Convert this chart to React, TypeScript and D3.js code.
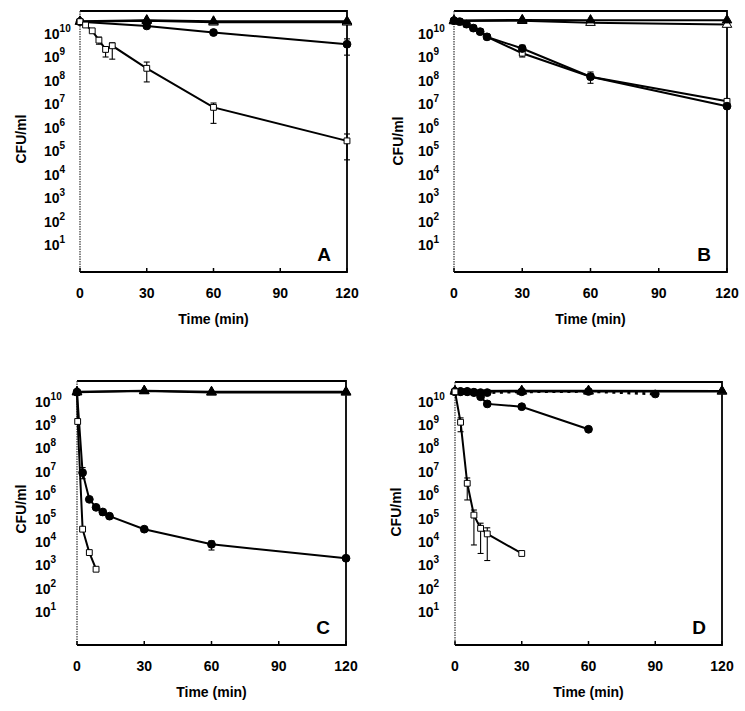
import React from "react";
import * as d3 from "d3";

// ---------- data (CFU/ml) ----------
const T4 = [0, 30, 60, 120];
const T9 = [0, 2.5, 5.5, 8.5, 11.5, 14.5, 30, 60, 120];
const xTicks = [0, 30, 60, 90, 120];
const yExps = [1, 2, 3, 4, 5, 6, 7, 8, 9, 10];

// Panel A
const A_openTri = [3.2e10, 3.5e10, 3.0e10, 3.0e10];
const A_fillTri = [3.3e10, 3.7e10, 3.3e10, 3.3e10];
const A_circle = [3.2e10, 2.1e10, 1.1e10, 3.5e9];
const A_circleLo = [null, null, null, 1.2e9];
const A_circleHi = [null, null, null, 5.9e9];
const A_square = [3.2e10, 2.3e10, 1.3e10, 5.2e9, 2.1e9, 3.0e9, 3.3e8, 7.2e6, 2.7e5];
const A_squareLo = [null, null, null, 3.5e9, 1.0e9, 8.1e8, 8.7e7, 1.5e6, 4.2e4];
const A_squareHi = [null, null, null, 7.0e9, 2.7e9, 4.0e9, 6.1e8, 1.1e7, 5.3e5];

// Panel B
const B_openTri = [3.4e10, 3.5e10, 2.9e10, 2.4e10];
const B_fillTri = [3.6e10, 3.8e10, 3.7e10, 3.7e10];
const B_square = [3.5e10, 3.2e10, 2.5e10, 1.7e10, 1.2e10, 7.2e9, 1.45e9, 1.45e8, 1.3e7];
const B_squareLo = [null, null, null, null, null, null, 1.0e9, 7.6e7, null];
const B_squareHi = [null, null, null, null, null, null, null, null, null];
const B_circle = [3.5e10, 3.2e10, 2.5e10, 1.7e10, 1.2e10, 7.2e9, 2.3e9, 1.45e8, 8.1e6];
const B_circleLo = [null, null, null, null, null, null, null, null, null];
const B_circleHi = [null, null, null, null, null, null, 3.2e9, 2.3e8, null];

// Panel C
const C_openTri = [2.5e10, 2.8e10, 2.45e10, 2.45e10];
const C_fillTri = [2.6e10, 2.9e10, 2.6e10, 2.6e10];
const C_circle = [2.5e10, 9.1e6, 6.6e5, 3.0e5, 1.9e5, 1.26e5, 3.5e4, 7.9e3, 2.0e3];
const C_circleLo = [null, 5.0e6, null, null, 1.4e5, null, null, 4.5e3, null];
const C_circleHi = [null, 1.5e7, null, null, 2.3e5, null, null, 1.1e4, null];
const C_sqT = [0, 0.3, 2.5, 5.5, 8.5];
const C_square = [2.5e10, 1.4e9, 3.5e4, 3.5e3, 6.8e2];

// Panel D
const D_openTri = [2.7e10, 2.7e10, 2.7e10, 2.7e10];
const D_fillTri = [2.8e10, 2.9e10, 2.9e10, 2.8e10];
const D_dotT = [0, 2.5, 5.5, 8.5, 11.5, 14.5, 30, 60, 90];
const D_dotCircle = [2.7e10, 2.7e10, 2.7e10, 2.4e10, 2.4e10, 2.4e10, 2.6e10, 2.7e10, 2.1e10];
const D_circT = [0, 2.5, 5.5, 8.5, 11.5, 14.5, 30, 60];
const D_circle = [2.6e10, 2.6e10, 2.6e10, 2.5e10, 1.6e10, 7.9e9, 6.0e9, 6.5e8];
const D_sqT = [0, 2.5, 5.5, 8.5, 11.5, 14.5, 30];
const D_square = [2.6e10, 1.3e9, 3.2e6, 1.4e5, 3.8e4, 2.2e4, 3.2e3];
const D_squareLo = [null, 5.1e8, 6.2e5, 7.4e3, 3.2e3, 1.6e3, null];
const D_squareHi = [null, 2.0e9, 5.4e6, 2.3e5, 6.3e4, 4.0e4, null];

type Series = {
  t: number[];
  v: number[];
  lo?: (number | null)[];
  hi?: (number | null)[];
  marker: "circle" | "square" | "triOpen" | "triFilled";
  dotted?: boolean;
};

type PanelCfg = {
  letter: string;
  x0: number; x1: number; yTop: number; yBot: number;
  y0: number; d: number;
  labelX: number; cfuX: number; cfuY: number;
  series: Series[];
};

const panels: PanelCfg[] = [
  {
    letter: "A", x0: 80, x1: 347, yTop: 11, yBot: 272, y0: 268.5, d: 23.5,
    labelX: 44, cfuX: 21, cfuY: 139,
    series: [
      { t: T4, v: A_openTri, marker: "triOpen" },
      { t: T4, v: A_fillTri, marker: "triFilled" },
      { t: T4, v: A_circle, lo: A_circleLo, hi: A_circleHi, marker: "circle" },
      { t: T9, v: A_square, lo: A_squareLo, hi: A_squareHi, marker: "square" },
    ],
  },
  {
    letter: "B", x0: 454, x1: 727, yTop: 11, yBot: 272, y0: 268.5, d: 23.5,
    labelX: 418, cfuX: 398, cfuY: 141,
    series: [
      { t: T4, v: B_openTri, marker: "triOpen" },
      { t: T4, v: B_fillTri, marker: "triFilled" },
      { t: T9, v: B_square, lo: B_squareLo, hi: B_squareHi, marker: "square" },
      { t: T9, v: B_circle, lo: B_circleLo, hi: B_circleHi, marker: "circle" },
    ],
  },
  {
    letter: "C", x0: 77, x1: 346, yTop: 381, yBot: 645, y0: 635.5, d: 23.4,
    labelX: 35, cfuX: 21, cfuY: 509,
    series: [
      { t: T4, v: C_openTri, marker: "triOpen" },
      { t: T4, v: C_fillTri, marker: "triFilled" },
      { t: C_sqT, v: C_square, marker: "square" },
      { t: T9, v: C_circle, lo: C_circleLo, hi: C_circleHi, marker: "circle" },
    ],
  },
  {
    letter: "D", x0: 455, x1: 722, yTop: 382, yBot: 645, y0: 635.5, d: 23.4,
    labelX: 418, cfuX: 396, cfuY: 512,
    series: [
      { t: T4, v: D_openTri, marker: "triOpen" },
      { t: T4, v: D_fillTri, marker: "triFilled" },
      { t: D_dotT, v: D_dotCircle, marker: "circle", dotted: true },
      { t: D_circT, v: D_circle, marker: "circle" },
      { t: D_sqT, v: D_square, lo: D_squareLo, hi: D_squareHi, marker: "square" },
    ],
  },
];

const FONT = "'Liberation Sans', Arial, Helvetica, sans-serif";

function markerPath(m: Series["marker"]): string {
  if (m === "circle") return d3.symbol().type(d3.symbolCircle).size(48)() || "";
  if (m === "square") return d3.symbol().type(d3.symbolSquare).size(34)() || "";
  return d3.symbol().type(d3.symbolTriangle).size(40)() || "";
}

function Panel({ cfg }: { cfg: PanelCfg }) {
  const x = d3.scaleLinear().domain([0, 120]).range([cfg.x0, cfg.x1]);
  const kTop = (cfg.y0 - cfg.yTop) / cfg.d;
  const kBot = (cfg.y0 - cfg.yBot) / cfg.d;
  const y = d3.scaleLog().domain([Math.pow(10, kBot), Math.pow(10, kTop)]).range([cfg.yBot, cfg.yTop]);
  const line = d3
    .line<number>()
    .x((_, i, arr) => 0)
    .y(() => 0);
  const pathFor = (s: Series) =>
    d3
      .line<[number, number]>()
      .x((p) => x(p[0]))
      .y((p) => y(p[1]))(s.t.map((t, i) => [t, s.v[i]] as [number, number])) || "";
  void line;
  const xMid = (cfg.x0 + cfg.x1) / 2;
  return (
    <g>
      {/* frame: top, right, bottom */}
      <path
        d={`M${cfg.x0},${cfg.yTop}H${cfg.x1}V${cfg.yBot}H${cfg.x0}`}
        fill="none"
        stroke="#000"
        strokeWidth={1.8}
      />
      {/* left axis */}
      <line x1={cfg.x0} x2={cfg.x0} y1={cfg.yTop} y2={cfg.yBot} stroke="#333" strokeWidth={1.2} strokeDasharray="1.5,1" />
      {/* x ticks */}
      {xTicks.map((t) => (
        <line key={"xt" + t} x1={x(t)} x2={x(t)} y1={cfg.yBot} y2={cfg.yBot - 4} stroke="#000" strokeWidth={1.5} />
      ))}
      {xTicks.map((t) => (
        <text key={"xl" + t} x={x(t)} y={cfg.yBot + 26} textAnchor="middle" fontFamily={FONT} fontWeight="bold" fontSize={14}>
          {t}
        </text>
      ))}
      <text x={xMid} y={cfg.yBot + 52} textAnchor="middle" fontFamily={FONT} fontWeight="bold" fontSize={14}>
        Time (min)
      </text>
      {/* y labels */}
      {yExps.map((k) => (
        <text key={"yl" + k} x={cfg.labelX} y={y(Math.pow(10, k)) + 5} fontFamily={FONT} fontWeight="bold" fontSize={14}>
          10
          <tspan dy={-7} fontSize={10}>
            {k}
          </tspan>
        </text>
      ))}
      <text
        transform={`translate(${cfg.cfuX + 5},${cfg.cfuY}) rotate(-90)`}
        textAnchor="middle"
        fontFamily={FONT}
        fontWeight="bold"
        fontSize={14}
      >
        CFU/ml
      </text>
      <text x={cfg.x1 - 16} y={cfg.yBot - 11} textAnchor="end" fontFamily={FONT} fontWeight="bold" fontSize={19}>
        {cfg.letter}
      </text>
      {/* lines */}
      {cfg.series.map((s, si) => (
        <path
          key={"ln" + si}
          d={pathFor(s)}
          fill="none"
          stroke="#000"
          strokeWidth={s.dotted ? 2.8 : 2}
          strokeDasharray={s.dotted ? "3,4.5" : undefined}
        />
      ))}
      {/* error bars */}
      {cfg.series.map((s, si) =>
        s.t.map((t, i) => {
          const lo = s.lo ? s.lo[i] : null;
          const hi = s.hi ? s.hi[i] : null;
          if (lo == null && hi == null) return null;
          const cx = x(t);
          const yl = y(lo != null ? lo : s.v[i]);
          const yh = y(hi != null ? hi : s.v[i]);
          return (
            <g key={`eb${si}-${i}`} stroke="#000" strokeWidth={1.1}>
              <line x1={cx} x2={cx} y1={yl} y2={yh} />
              {lo != null && <line x1={cx - 3} x2={cx + 3} y1={yl} y2={yl} />}
              {hi != null && <line x1={cx - 3} x2={cx + 3} y1={yh} y2={yh} />}
            </g>
          );
        })
      )}
      {/* markers */}
      {cfg.series.map((s, si) =>
        s.t.map((t, i) => {
          const open = s.marker === "square" || s.marker === "triOpen";
          return (
            <path
              key={`mk${si}-${i}`}
              d={markerPath(s.marker)}
              transform={`translate(${x(t)},${y(s.v[i])})`}
              fill={open ? "#fff" : "#000"}
              stroke="#000"
              strokeWidth={1}
            />
          );
        })
      )}
    </g>
  );
}

export default function App() {
  return (
    <svg
      width={745}
      height={711}
      style={{ position: "absolute", left: 0, top: 0, background: "#fff" }}
    >
      <rect x={0} y={0} width={745} height={711} fill="#fff" />
      {panels.map((p) => (
        <Panel key={p.letter} cfg={p} />
      ))}
    </svg>
  );
}
